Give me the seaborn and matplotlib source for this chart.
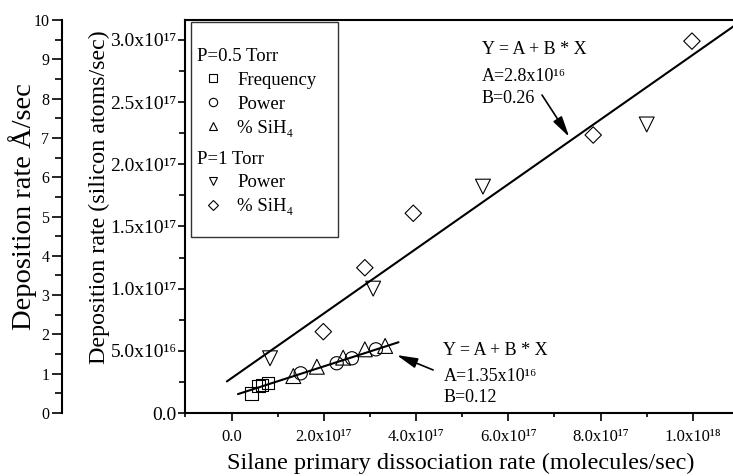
import matplotlib
matplotlib.use("Agg")
import matplotlib.pyplot as plt
from matplotlib.lines import Line2D
from matplotlib.ticker import MultipleLocator
import seaborn as sns

# === Values ===
# P=0.5 Torr
freq_x = [4.4e16, 5.8e16, 6.6e16, 7.9e16]
freq_y = [1.57e16, 2.17e16, 2.25e16, 2.41e16]
power05_x = [1.50e17, 2.28e17, 2.61e17, 3.13e17]
power05_y = [3.19e16, 4.00e16, 4.40e16, 5.12e16]
sih4_05_x = [1.34e17, 1.85e17, 2.42e17, 2.89e17, 3.33e17]
sih4_05_y = [2.97e16, 3.72e16, 4.45e16, 5.12e16, 5.39e16]
# P=1 Torr
power1_x = [8.35e16, 3.07e17, 5.45e17, 9.00e17]
power1_y = [4.40e16, 1.00e17, 1.82e17, 2.32e17]
sih4_1_x = [1.99e17, 2.89e17, 3.94e17, 7.84e17, 9.98e17]
sih4_1_y = [6.54e16, 1.168e17, 1.606e17, 2.235e17, 2.99e17]

# fitted lines Y = A + B * X (end points as drawn)
fit1_x = [-1.0e16, 1.10e18]
fit1_y = [2.54e16, 3.14e17]
fit05_x = [1.4e16, 3.62e17]
fit05_y = [1.52e16, 5.69e16]

# ticks
x_ticks = [0, 2e17, 4e17, 6e17, 8e17, 1e18]
x_tick_labels = ['0.0', '2.0x10¹⁷', '4.0x10¹⁷', '6.0x10¹⁷', '8.0x10¹⁷', '1.0x10¹⁸']
y_ticks = [0, 5e16, 1e17, 1.5e17, 2e17, 2.5e17, 3e17]
y_tick_labels = ['0.0', '5.0x10¹⁶', '1.0x10¹⁷', '1.5x10¹⁷', '2.0x10¹⁷', '2.5x10¹⁷', '3.0x10¹⁷']

# === Style ===
sns.set_style("ticks", rc={'axes.edgecolor': 'black', 'xtick.color': 'black',
                           'ytick.color': 'black', 'text.color': 'black',
                           'axes.labelcolor': 'black'})
plt.rcParams['font.family'] = ['Liberation Serif', 'DejaVu Serif']

W, H = 733, 476
fig = plt.figure(figsize=(W / 100, H / 100), dpi=100)
ax = fig.add_axes([185 / W, 1 - 413 / H, 1 - 185 / W, (413 - 20) / H])

# data points (open markers)
mk = dict(facecolor='none', edgecolor='black', linewidth=0.8, ax=ax, zorder=3)
sns.scatterplot(x=freq_x, y=freq_y, marker='s', s=85, **mk)
sns.scatterplot(x=power05_x, y=power05_y, marker='o', s=90, **mk)
sns.scatterplot(x=sih4_05_x, y=sih4_05_y, marker='^', s=115, **mk)
sns.scatterplot(x=power1_x, y=power1_y, marker='v', s=115, **mk)
sns.scatterplot(x=sih4_1_x, y=sih4_1_y, marker='D', s=70, **mk)

# fit lines
sns.lineplot(x=fit1_x, y=fit1_y, color='black', lw=1.5, ax=ax)
sns.lineplot(x=fit05_x, y=fit05_y, color='black', lw=1.5, ax=ax)

ax.set_xlim(-1.008e17, 1.087e18)
ax.set_ylim(0, 3.16e17)
ax.set_xticks(x_ticks, x_tick_labels)
ax.set_yticks(y_ticks, y_tick_labels)
ax.xaxis.set_minor_locator(MultipleLocator(1e17))
ax.yaxis.set_minor_locator(MultipleLocator(2.5e16))
ax.tick_params(axis='y', which='major', direction='out', length=5, width=1.2,
               labelsize=14, pad=1)
ax.tick_params(axis='y', which='minor', direction='out', length=4, width=1.2)
ax.tick_params(axis='x', which='major', direction='out', length=6, width=1.2,
               labelsize=12, pad=5.5)
ax.tick_params(axis='x', which='minor', direction='out', length=3, width=1.2)
for s in ['left', 'bottom', 'top']:
    ax.spines[s].set_linewidth(1.5)
ax.spines['right'].set_visible(False)

ax.set_xlabel('Silane primary dissociation rate (molecules/sec)', fontsize=17.5,
              va='baseline')
ax.xaxis.set_label_coords(0.503, -0.1425)
ax.set_ylabel('Deposition rate (silicon atoms/sec)', fontsize=17.3)
ax.yaxis.set_label_coords(-0.137, 0.548)

# outer axis in Angstrom/sec
ax2 = ax.twinx()
ax2.set_ylim(0, 10)
ax2.yaxis.set_ticks_position('left')
ax2.yaxis.set_label_position('left')
ax2.spines['left'].set_position(('outward', 88.6))
ax2.spines['left'].set_visible(True)
ax2.spines['left'].set_linewidth(1.5)
for s in ['right', 'top', 'bottom']:
    ax2.spines[s].set_visible(False)
ax2.yaxis.set_major_locator(MultipleLocator(1))
ax2.yaxis.set_minor_locator(MultipleLocator(0.5))
ax2.tick_params(axis='y', which='major', direction='out', length=7, width=1.2,
                labelsize=11.5, pad=2)
ax2.tick_params(axis='y', which='minor', direction='out', length=5, width=1.2)
ax2.set_ylabel('Deposition rate Å/sec', fontsize=20.5)
ax2.yaxis.set_label_coords(-0.2706, 0.526)

# fit annotations
arrow = dict(arrowstyle='-|>,head_length=0.9,head_width=0.22', color='black',
             lw=1.2, mutation_scale=14, shrinkA=0, shrinkB=0)
ax.text(5.425e17, 2.886e17, 'Y = A + B * X', fontsize=13)
ax.text(5.425e17, 2.672e17, 'A=2.8x10¹⁶', fontsize=13)
ax.text(5.425e17, 2.490e17, 'B=0.26', fontsize=13)
ax.annotate('', xy=(7.32e17, 2.22e17), xytext=(6.73e17, 2.557e17), arrowprops=arrow)
ax.text(4.592e17, 4.66e16, 'Y = A + B * X', fontsize=13)
ax.text(4.592e17, 2.57e16, 'A=1.35x10¹⁶', fontsize=13)
ax.text(4.592e17, 9.1e15, 'B=0.12', fontsize=13)
ax.annotate('', xy=(3.58e17, 4.66e16), xytext=(4.37e17, 3.46e16), arrowprops=arrow)

# legend with group headers
def proxy(m, ms=6):
    return Line2D([], [], ls='none', marker=m, ms=ms, mfc='none', mec='black', mew=0.8)

blank = Line2D([], [], ls='none')
headers = ['P=0.5 Torr', 'P=1 Torr']
handles = [blank, proxy('s'), proxy('o'), proxy('^'), blank, proxy('v'), proxy('D', 5)]
labels = ['P=0.5 Torr', 'Frequency', 'Power', '% SiH₄', 'P=1 Torr', 'Power', '% SiH₄']
leg = ax.legend(handles, labels, loc='upper left', bbox_to_anchor=(0.011, 0.0, 0.268, 0.996),
                mode='expand', borderaxespad=0, fontsize=13.5,
                handlelength=1.77, handletextpad=0.4, borderpad=0.3, labelspacing=0.36,
                frameon=True, fancybox=False, framealpha=1)
leg.get_frame().set_edgecolor('#333333')
leg.get_frame().set_linewidth(1.0)
rows = [row for col in leg._legend_handle_box.get_children() for row in col.get_children()]
for row in rows:
    da, ta = row.get_children()
    if ta.get_text() in headers:
        da.width = 0
        row.sep = 0
# extra room above the first header, before the second group and below the last entry
rows[0].get_children()[0].height += 15
rows[4].get_children()[0].height += 5
rows[-1].get_children()[0].ydescent += 14.5

fig.savefig('out.png', dpi=100)
